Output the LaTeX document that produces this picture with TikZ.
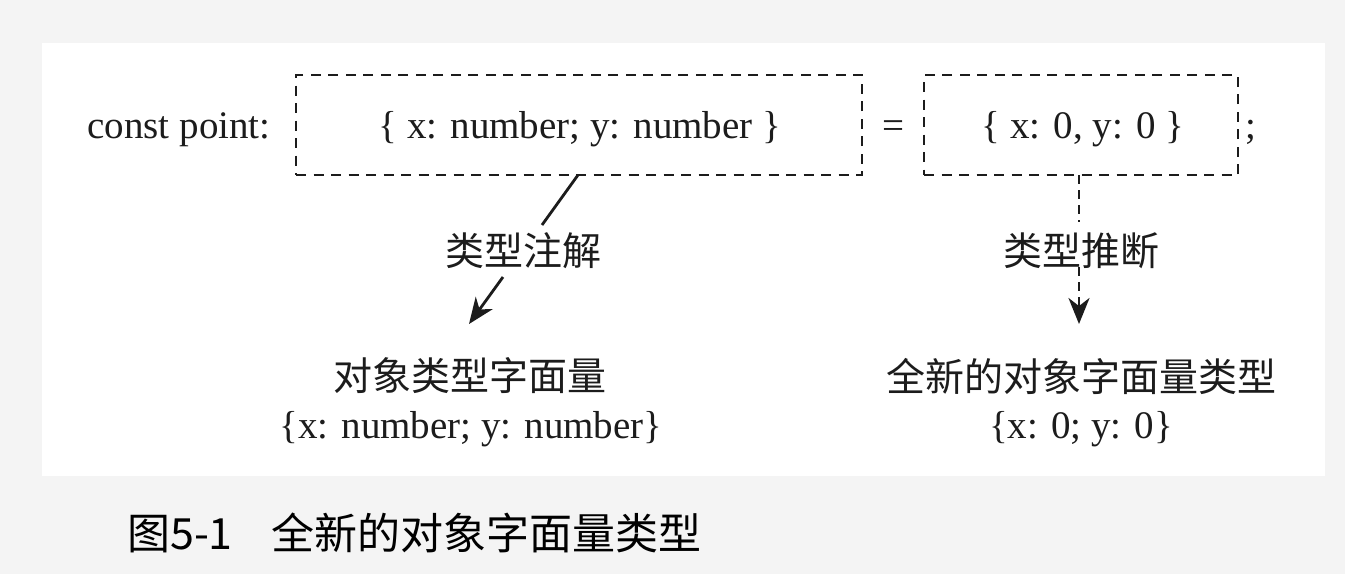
\documentclass[tikz,border=0pt]{standalone}
\usepackage{fontspec}
\setmainfont{Liberation Serif}
\newfontfamily\cjk{Noto Sans CJK SC}
\usetikzlibrary{arrows.meta}
\definecolor{pagebg}{HTML}{F4F4F4}
\definecolor{ink}{HTML}{1C1C1C}
\tikzset{
  dbox/.style={draw=ink, line width=2.8pt, dash pattern=on 10pt off 7.5pt, inner sep=0pt},
  code/.style={font=\fontsize{39}{44}\selectfont, text=ink, inner sep=0pt},
  zh/.style={font=\cjk\fontsize{39}{44}\selectfont, text=ink, inner sep=0pt},
  link/.style={draw=ink, line width=2.8pt},
  tip/.style={-{Stealth[length=26pt,width=21pt,inset=8pt]}}
}
\begin{document}
\begin{tikzpicture}[x=1pt,y=-1pt]
\fill[pagebg] (0,0) rectangle (1345,574);
\useasboundingbox (0,0) rectangle (1345,574);
\fill[white] (42,43) rectangle (1325,476);

\node[code, anchor=base] (decl) at (179,138) {const point:};
\node[dbox, minimum width=566pt, minimum height=100pt] (box1) at (579,125) {};
\node[code, anchor=base] (t1) at (580,138) {\{ x: number; y: number \}};
\node[code, anchor=base] (eq) at (893,138) {=};
\node[dbox, minimum width=314pt, minimum height=100pt] (box2) at (1081,125) {};
\node[code, anchor=base] (t2) at (1083,138) {\{ x: 0, y: 0 \}};
\node[code, anchor=base] (semi) at (1251,138) {;};

\node[zh] (lab1) at (523,251) {类型注解};
\node[zh] (lab2) at (1081,251) {类型推断};

\node[zh] (res1) at (470,376) {对象类型字面量};
\node[code, anchor=base] (res1t) at (471,438) {\{x: number; y: number\}};
\node[zh] (res2) at (1081,376) {全新的对象字面量类型};
\node[code, anchor=base] (res2t) at (1081,438) {\{x: 0; y: 0\}};

\coordinate (a1) at (578,175);
\coordinate (a2) at (542,225);
\coordinate (a3) at (503,277);
\coordinate (a4) at (469,324);
\draw[link] (a1) -- (a2);
\draw[link, tip] (a3) -- (a4);

\coordinate (b1) at (1079,175);
\coordinate (b2) at (1079,222);
\coordinate (b3) at (1079,267);
\coordinate (b4) at (1079,324);
\draw[link, dash pattern=on 9pt off 6pt] (b1) -- (b2);
\draw[link, dash pattern=on 9pt off 6pt, tip] (b3) -- (b4);

\node[font=\cjk\fontsize{43}{49}\selectfont, text=black, anchor=west, inner sep=0pt] (cap) at (127,533) {图5-1\hspace{0.9em}全新的对象字面量类型};
\end{tikzpicture}
\end{document}
